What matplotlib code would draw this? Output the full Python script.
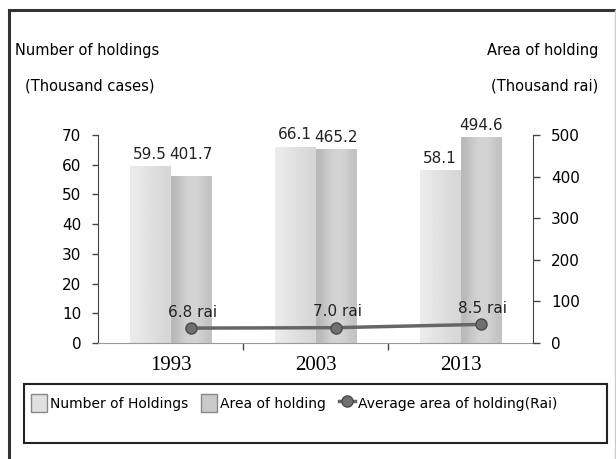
import numpy as np
import matplotlib
matplotlib.use('Agg')
import matplotlib.pyplot as plt
from matplotlib.patches import Rectangle, Patch
from matplotlib.lines import Line2D

years = ['1993', '2003', '2013']
holdings = [59.5, 66.1, 58.1]          # thousand cases (left axis)
area = [401.7, 465.2, 494.6]           # thousand rai (right axis)
avg_area = [6.8, 7.0, 8.5]             # rai per holding

plt.rcParams['font.family'] = ['DejaVu Sans']

fig = plt.figure(figsize=(6.16, 4.59), dpi=100)
ax = fig.add_axes([98/616, 1-343/459, 435/616, 208/459])
ax2 = ax.twinx()
ax3 = ax.twinx()

x = np.arange(len(years))
w = 0.28
c_hold = '#e0e0e0'
c_area = '#c9c9c9'

b1 = ax.bar(x - w/2, holdings, w, color=c_hold, edgecolor='none', zorder=2)
b2 = ax2.bar(x + w/2, area, w, color=c_area, edgecolor='none', zorder=2)


def shade(a, bars, cols):
    # horizontal gray gradient clipped to each bar
    grad = np.array([cols])
    for b in bars:
        x0, y0 = b.get_x(), b.get_y()
        im = a.imshow(grad, cmap='gray', vmin=0, vmax=1, aspect='auto',
                      extent=(x0, x0 + b.get_width(), y0, y0 + b.get_height()),
                      interpolation='bicubic', zorder=2.5)
        im.set_clip_path(b)


shade(ax, b1, [0.92, 0.90, 0.88, 0.86, 0.84])
shade(ax2, b2, [0.72, 0.80, 0.84, 0.82, 0.76])

fs = 11
for xi, v in zip(x, holdings):
    ax.annotate(f'{v:.1f}', (xi - w/2, v), xytext=(0, 3), textcoords='offset points',
                ha='center', va='bottom', fontsize=fs, color='#222222')
extra = [10, 3, 3]
for xi, v, e in zip(x, area, extra):
    ax2.annotate(f'{v:.1f}', (xi + w/2, v), xytext=(0, e), textcoords='offset points',
                 ha='center', va='bottom', fontsize=fs, color='#222222')

# average area line on its own hidden scale
ax3.plot(x + w/2, avg_area, color='#666666', lw=2.5, marker='o', ms=8,
         mfc='#707070', mec='#4a4a4a', zorder=5)
ax3.set_ylim(0, 95)
ax3.axis('off')
for xi, v in zip(x, avg_area):
    ax3.annotate(f'{v:.1f} rai', (xi + w/2, v), xytext=(1, 6), textcoords='offset points',
                 ha='center', va='bottom', fontsize=fs, color='#222222')

ax.set_xlim(-0.5, 2.5)
ax.set_ylim(0, 70)
ax2.set_ylim(0, 500)
ax.set_yticks(range(0, 71, 10))
ax2.set_yticks(range(0, 501, 100))

ax.set_xticks(x)
ax.set_xticklabels(years, fontsize=15, family='Liberation Serif')
ax.tick_params(axis='x', length=0, pad=9)
ax.set_xticks([0.5, 1.5], minor=True)
ax.tick_params(axis='x', which='minor', length=5, direction='out', width=1, color='#444444')

ax.tick_params(axis='y', length=4, width=1, labelsize=11, pad=8, color='#444444')
ax2.tick_params(axis='y', length=5, width=1, labelsize=11, pad=8, color='#444444')

for a in (ax, ax2):
    a.spines['top'].set_visible(False)
    a.spines['left'].set_color('#444444')
    a.spines['right'].set_color('#444444')
    a.spines['bottom'].set_color('#999999')
ax.spines['right'].set_visible(False)
ax2.spines['left'].set_visible(False)
ax2.spines['bottom'].set_visible(False)

# axis titles
tfs = 10.5
fig.text(15/616, 1-50/459, 'Number of holdings', fontsize=tfs, ha='left', va='center')
fig.text(25/616, 1-86/459, '(Thousand cases)', fontsize=tfs, ha='left', va='center')
fig.text(598/616, 1-50/459, 'Area of holding', fontsize=tfs, ha='right', va='center')
fig.text(598/616, 1-86/459, '(Thousand rai)', fontsize=tfs, ha='right', va='center')

# outer frame
fig.add_artist(Line2D([9/616, 9/616], [0, 1-10/459], color='#333333', lw=2.2, transform=fig.transFigure))
fig.add_artist(Line2D([9/616, 614/616], [1-10/459, 1-10/459], color='#333333', lw=2.2, transform=fig.transFigure))
fig.add_artist(Line2D([615/616, 615/616], [0, 1-10/459], color='#cccccc', lw=1, transform=fig.transFigure))

# legend box
fig.add_artist(Rectangle((24/616, 1-443/459), 583/616, 59/459, transform=fig.transFigure,
                         fill=False, edgecolor='#222222', lw=1.5))
handles = [Patch(facecolor=c_hold, edgecolor='#888888'),
           Patch(facecolor=c_area, edgecolor='#888888'),
           Line2D([], [], color='#666666', lw=2.5, marker='o', ms=8, mfc='#707070', mec='#4a4a4a')]
labels = ['Number of Holdings', 'Area of holding', 'Average area of holding(Rai)']
fig.legend(handles, labels, loc='center left', bbox_to_anchor=(18/616, 1-403/459), ncol=3,
           frameon=False, fontsize=10, handlelength=1.2, handletextpad=0.2,
           columnspacing=0.9, handleheight=1.7)

fig.savefig('out.png', dpi=100)
